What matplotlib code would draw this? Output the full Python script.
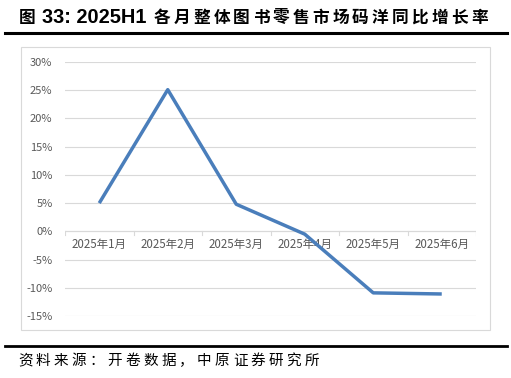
import matplotlib
matplotlib.use('Agg')
import matplotlib.pyplot as plt
import matplotlib.ticker as mticker
from matplotlib.patches import Rectangle
from matplotlib.lines import Line2D

plt.rcParams['font.family'] = ['Noto Sans CJK SC', 'DejaVu Sans']

# 数据
months = ['2025年1月', '2025年2月', '2025年3月', '2025年4月', '2025年5月', '2025年6月']
yoy = [0.050, 0.251, 0.048, -0.005, -0.109, -0.111]
yticks = [-0.15, -0.10, -0.05, 0, 0.05, 0.10, 0.15, 0.20, 0.25, 0.30]

title_head = '图'
title_num = '33: 2025H1'
title_tail = '各月整体图书零售市场码洋同比增长率'
source = '资料来源：开卷数据，中原证券研究所'

W, H = 511, 378
fig = plt.figure(figsize=(W / 100, H / 100), dpi=100)


def spaced_text(x0, y, s, pitch, **kw):
    # 逐字放置，模拟宽字距
    for k, ch in enumerate(s):
        fig.text((x0 + k * pitch) / W, 1 - y / H, ch, ha='left', va='center', **kw)


# 标题
fig.text(19 / W, 1 - 17.5 / H, title_head, fontsize=12, fontweight='bold',
         va='center', ha='left')
fig.text(42 / W, 1 - 17.5 / H, title_num, fontsize=14.4, fontweight='bold',
         family='Liberation Sans', va='center', ha='left')
spaced_text(154, 17.5, title_tail, 19.8, fontsize=12, fontweight='bold')

# 上下分隔线
fig.add_artist(Line2D([5 / W, 507 / W], [1 - 32.5 / H] * 2, color='black', lw=2.2))
fig.add_artist(Line2D([5 / W, 507 / W], [1 - 345.5 / H] * 2, color='black', lw=2.0))
spaced_text(18, 360.5, source, 17.9, fontsize=10.5)

# 图表外框
fig.add_artist(Rectangle((21 / W, 1 - 330 / H), 469 / W, 283 / H, fill=False,
                         edgecolor='#d9d9d9', lw=0.8))

ax = fig.add_axes([65 / W, 1 - 316 / H, 411 / W, 254 / H])
x = list(range(len(months)))
ax.plot(x, yoy, color='#4a7ebb', lw=2.5, solid_capstyle='butt', zorder=3)

ax.set_xlim(-0.5, len(months) - 0.5)
ax.set_ylim(-0.15, 0.30)
ax.set_yticks(yticks)
ax.yaxis.set_major_formatter(mticker.FuncFormatter(lambda v, p: f'{v * 100:.0f}%'))
ax.grid(axis='y', color='#d9d9d9', lw=0.8, zorder=0)
for s in ax.spines.values():
    s.set_visible(False)
ax.tick_params(axis='y', length=0, labelsize=8, labelcolor='#595959', pad=9)

# 类别轴放在 0 处
ax.axhline(0, color='#d9d9d9', lw=0.8, zorder=1)
ax.set_xticks([])
for i, m in enumerate(months):
    ax.text(i, -0.011, m, ha='center', va='top', fontsize=8.3, color='#595959', zorder=2)
for b in range(len(months) + 1):
    ax.plot([b - 0.5, b - 0.5], [0, -0.006], color='#d9d9d9', lw=0.8, zorder=1)

fig.savefig('out.png', dpi=100)
